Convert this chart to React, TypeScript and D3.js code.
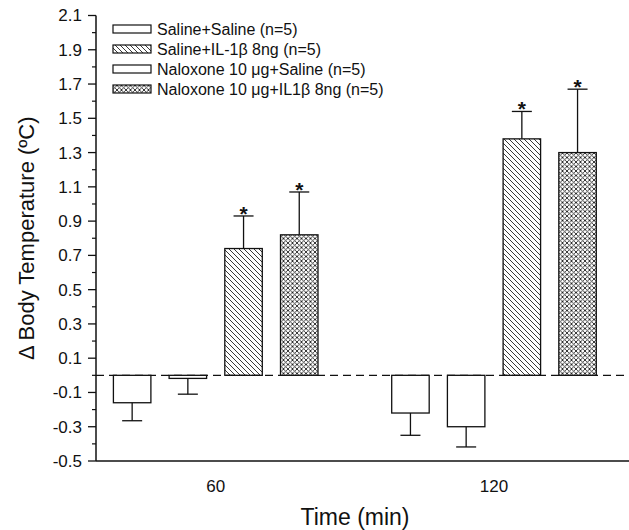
import React, { useEffect } from 'react';
import * as d3 from 'd3';

// time points (min)
const groups = ['60', '120'];

// series in the order the bars are drawn inside each group
const seriesNames = [
  'Saline+Saline (n=5)',
  'Naloxone 10 \u03BCg+Saline (n=5)',
  'Saline+IL-1\u03B2 8ng (n=5)',
  'Naloxone 10 \u03BCg+IL1\u03B2 8ng (n=5)',
];
const seriesFill = ['open', 'open', 'hatch', 'cross'];

// mean change in body temperature per series, per time point
const meanValues = [
  [-0.16, -0.22],
  [-0.018, -0.3],
  [0.74, 1.38],
  [0.82, 1.3],
];
// SEM per series, per time point
const semValues = [
  [0.105, 0.13],
  [0.092, 0.118],
  [0.19, 0.16],
  [0.25, 0.37],
];
// significance marks
const starred = [
  [false, false],
  [false, false],
  [true, true],
  [true, true],
];

// legend order as printed
const legendOrder = [0, 2, 1, 3];

const yTicks = [-0.5, -0.3, -0.1, 0.1, 0.3, 0.5, 0.7, 0.9, 1.1, 1.3, 1.5, 1.7, 1.9, 2.1];

const W = 629;
const H = 530;
const font = '"Liberation Sans", Arial, Helvetica, sans-serif';

const fillFor = (k: string) =>
  k === 'hatch' ? 'url(#hatch)' : k === 'cross' ? 'url(#cross)' : '#fff';

export default function App() {
  useEffect(() => {
    document.body.style.margin = '0';
  }, []);

  const axisX = 96;
  const axisY = 461;
  const rightX = 629;

  const y = d3.scaleLinear().domain([-0.5, 2.1]).range([axisY, 15.5]);
  const xGroup = d3.scalePoint<string>().domain(groups).range([215.7, 494]);
  const xBar = d3
    .scaleBand<number>()
    .domain(d3.range(seriesNames.length))
    .range([-111.4, 111.4])
    .paddingInner(0.327)
    .paddingOuter(0.1635);

  const minorTicks = d3.range(-0.4, 2.1, 0.2).map((v) => +v.toFixed(2));
  const bw = xBar.bandwidth();
  const capW = 20;

  return (
    <svg width={W} height={H} style={{ display: 'block', background: '#fff' }} fontFamily={font}>
      <defs>
        <pattern id="hatch" patternUnits="userSpaceOnUse" width={5} height={5}>
          <path d="M0,0 L5,5 M-1,4 L1,6 M4,-1 L6,1" stroke="#222" strokeWidth={0.9} />
        </pattern>
        <pattern id="cross" patternUnits="userSpaceOnUse" width={4.5} height={4.5}>
          <rect width={4.5} height={4.5} fill="#fff" />
          <path
            d="M0,0 L4.5,4.5 M-1,3.5 L1,5.5 M3.5,-1 L5.5,1 M0,4.5 L4.5,0 M-1,1 L1,-1 M3.5,5.5 L5.5,3.5"
            stroke="#222"
            strokeWidth={0.9}
          />
        </pattern>
      </defs>

      {/* zero reference line */}
      <line
        x1={axisX}
        x2={rightX}
        y1={y(0)}
        y2={y(0)}
        stroke="#111"
        strokeWidth={1.3}
        strokeDasharray="8,5"
      />

      {/* bars */}
      {seriesNames.map((name, s) =>
        groups.map((g, gi) => {
          const v = meanValues[s][gi];
          const e = semValues[s][gi];
          const cx = (xGroup(g) as number) + (xBar(s) as number) + bw / 2;
          const x0 = cx - bw / 2;
          const top = y(Math.max(0, v));
          const bottom = y(Math.min(0, v));
          const tip = v >= 0 ? y(v + e) : y(v - e);
          const end = y(v);
          return (
            <g key={name + g}>
              <rect
                x={x0}
                y={top}
                width={bw}
                height={Math.max(1, bottom - top)}
                fill={fillFor(seriesFill[s])}
                stroke="#111"
                strokeWidth={1.3}
              />
              <line x1={cx} x2={cx} y1={end} y2={tip} stroke="#111" strokeWidth={1.3} />
              <line x1={cx - capW / 2} x2={cx + capW / 2} y1={tip} y2={tip} stroke="#111" strokeWidth={1.3} />
              {starred[s][gi] && (
                <text x={cx} y={tip + 5} textAnchor="middle" fontSize={21} fontWeight="bold" fill="#111">
                  *
                </text>
              )}
            </g>
          );
        })
      )}

      {/* y axis */}
      <line x1={axisX} x2={axisX} y1={y(2.1)} y2={axisY} stroke="#111" strokeWidth={1.5} />
      {yTicks.map((t) => (
        <g key={'t' + t}>
          <line x1={axisX - 8} x2={axisX} y1={y(t)} y2={y(t)} stroke="#111" strokeWidth={1.3} />
          <text x={axisX - 14} y={y(t)} dy="0.35em" textAnchor="end" fontSize={17} fill="#111">
            {t.toFixed(1)}
          </text>
        </g>
      ))}
      {minorTicks.map((t) => (
        <line key={'m' + t} x1={axisX - 4} x2={axisX} y1={y(t)} y2={y(t)} stroke="#111" strokeWidth={1.2} />
      ))}

      {/* x axis */}
      <line x1={axisX} x2={rightX} y1={axisY} y2={axisY} stroke="#111" strokeWidth={1.5} />
      {groups.map((g) => (
        <text key={'g' + g} x={xGroup(g)} y={axisY + 31} textAnchor="middle" fontSize={17} fill="#111">
          {g}
        </text>
      ))}

      {/* axis titles */}
      <text x={355} y={525} textAnchor="middle" fontSize={23} fill="#111">
        Time (min)
      </text>
      <text
        transform={`translate(34,${y(0.8)}) rotate(-90)`}
        textAnchor="middle"
        fontSize={22}
        fill="#111"
      >
        {'\u0394 Body Temperature (\u00BAC)'}
      </text>

      {/* legend */}
      {legendOrder.map((s, i) => {
        const cy = 29 + i * 20;
        return (
          <g key={'l' + s}>
            <rect x={113} y={cy - 4} width={38} height={8} fill={fillFor(seriesFill[s])} stroke="#111" strokeWidth={1.2} />
            <text x={157} y={cy} dy="0.36em" fontSize={16} fill="#111">
              {seriesNames[s]}
            </text>
          </g>
        );
      })}
    </svg>
  );
}
